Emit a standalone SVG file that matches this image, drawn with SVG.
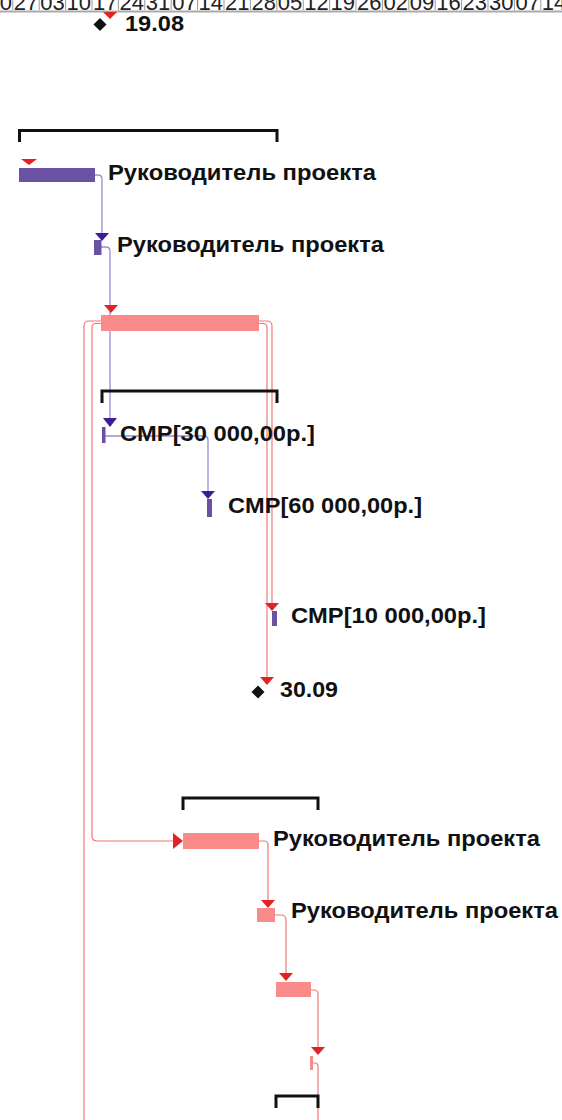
<svg xmlns="http://www.w3.org/2000/svg" width="562" height="1120" viewBox="0 0 562 1120">
<style>
.hdr{font-family:"Liberation Sans",Arial,sans-serif;font-size:22px;fill:#222}
.sep{stroke:#999;stroke-width:1}
.lbl{font-family:"Liberation Sans",Arial,sans-serif;font-size:22.5px;font-weight:bold;fill:#111}
.pbar{fill:#6a51a3}
.rbar{fill:#f98b8b}
.brk{fill:none;stroke:#111;stroke-width:3}
.pcon{fill:none;stroke:#9d8bd2;stroke-width:1.3}
.rcon{fill:none;stroke:#f27878;stroke-width:1.2}
.parr{fill:#3d1c96}
.rarr{fill:#e02424}
.ms{fill:#111}
</style>
<rect width="562" height="1120" fill="#fff"/>
<g id="timescale">
<line x1="0" y1="11.5" x2="562" y2="11.5" stroke="#aaa" stroke-width="2"/>
<g class="sep">
<line x1="12.8" y1="0" x2="12.8" y2="10"/><line x1="39.2" y1="0" x2="39.2" y2="10"/><line x1="65.6" y1="0" x2="65.6" y2="10"/><line x1="92" y1="0" x2="92" y2="10"/><line x1="118.4" y1="0" x2="118.4" y2="10"/><line x1="144.8" y1="0" x2="144.8" y2="10"/><line x1="171.2" y1="0" x2="171.2" y2="10"/><line x1="197.6" y1="0" x2="197.6" y2="10"/><line x1="224" y1="0" x2="224" y2="10"/><line x1="250.4" y1="0" x2="250.4" y2="10"/><line x1="276.8" y1="0" x2="276.8" y2="10"/><line x1="303.2" y1="0" x2="303.2" y2="10"/><line x1="329.6" y1="0" x2="329.6" y2="10"/><line x1="356" y1="0" x2="356" y2="10"/><line x1="382.4" y1="0" x2="382.4" y2="10"/><line x1="408.8" y1="0" x2="408.8" y2="10"/><line x1="435.2" y1="0" x2="435.2" y2="10"/><line x1="461.6" y1="0" x2="461.6" y2="10"/><line x1="488" y1="0" x2="488" y2="10"/><line x1="514.4" y1="0" x2="514.4" y2="10"/><line x1="540.8" y1="0" x2="540.8" y2="10"/>
</g>
<text class="hdr" x="-12.6" y="9.5">20</text><text class="hdr" x="13.8" y="9.5">27</text><text class="hdr" x="40.2" y="9.5">03</text><text class="hdr" x="66.6" y="9.5">10</text><text class="hdr" x="93" y="9.5">17</text><text class="hdr" x="119.4" y="9.5">24</text><text class="hdr" x="145.8" y="9.5">31</text><text class="hdr" x="172.2" y="9.5">07</text><text class="hdr" x="198.6" y="9.5">14</text><text class="hdr" x="225" y="9.5">21</text><text class="hdr" x="251.4" y="9.5">28</text><text class="hdr" x="277.8" y="9.5">05</text><text class="hdr" x="304.2" y="9.5">12</text><text class="hdr" x="330.6" y="9.5">19</text><text class="hdr" x="357" y="9.5">26</text><text class="hdr" x="383.4" y="9.5">02</text><text class="hdr" x="409.8" y="9.5">09</text><text class="hdr" x="436.2" y="9.5">16</text><text class="hdr" x="462.6" y="9.5">23</text><text class="hdr" x="489" y="9.5">30</text><text class="hdr" x="515.4" y="9.5">07</text><text class="hdr" x="541.8" y="9.5">14</text>
</g>
<g id="connectors">
<path class="pcon" d="M95,175 H98 Q102,175 102,179 V234"/>
<path class="rcon" d="M101,321 H89 Q84,321 84,326 V1120"/>
<path class="rcon" d="M101,323.5 H96 Q92,323.5 92,327.5 V836 Q92,841 97,841 H174"/>
<path class="rcon" d="M259,321 H267 Q272,321 272,326 V604"/>
<path class="rcon" d="M259,323.5 H263 Q267,323.5 267,327.5 V678"/>
<path class="pcon" d="M101,247 H106 Q110,247 110,251 V419"/>
<path class="pcon" d="M105,436 H204 Q208,436 208,440 V492"/>
<path class="rcon" d="M259,841 H264 Q268,841 268,845 V901"/>
<path class="rcon" d="M275,915 H281 Q286,915 286,920 V974"/>
<path class="rcon" d="M311,990 H314 Q318,990 318,994 V1048"/>
<path class="rcon" d="M313,1063 H315 Q318,1063 318,1066 V1120"/>
<polygon class="parr" points="95,233 109,233 102,241"/>
<polygon class="rarr" points="104,305 118,305 111,313"/>
<polygon class="parr" points="103,418 117,418 110,427"/>
<polygon class="parr" points="201,491 215,491 208,499"/>
<polygon class="rarr" points="265,603 279,603 272,611"/>
<polygon class="rarr" points="260,677 274,677 267,685"/>
<polygon class="rarr" points="173,833 183,841 173,849"/>
<polygon class="rarr" points="261,900 275,900 268,908"/>
<polygon class="rarr" points="279,973 293,973 286,981"/>
<polygon class="rarr" points="311,1047 325,1047 318,1055"/>
<polygon class="rarr" points="103,12 117,12 110,19"/>
<polygon class="rarr" points="21,159 37,159 29,165"/>
</g>
<g id="ms-1908">
<polygon class="ms" points="100,18 106.5,24.5 100,31 93.5,24.5"/>
<text class="lbl" x="125" y="31" textLength="59" lengthAdjust="spacingAndGlyphs">19.08</text>
</g>
<g id="summary-1">
<path class="brk" d="M19.5,142 V130.5 H277 V142"/>
</g>
<g id="task-a">
<rect class="pbar" x="19" y="168" width="76" height="14"/>
<text class="lbl" x="108" y="180" textLength="268" lengthAdjust="spacingAndGlyphs">Руководитель проекта</text>
</g>
<g id="task-b">
<rect class="pbar" x="94" y="240" width="7.5" height="15"/>
<text class="lbl" x="117" y="252" textLength="267" lengthAdjust="spacingAndGlyphs">Руководитель проекта</text>
</g>
<g id="task-crit-1">
<rect class="rbar" x="101" y="315" width="158" height="16"/>
</g>
<g id="summary-2">
<path class="brk" d="M102,403 V391 H277 V403"/>
</g>
<g id="cmp-30">
<rect class="pbar" x="102" y="427" width="3.5" height="16"/>
<text class="lbl" x="120" y="441" textLength="195" lengthAdjust="spacingAndGlyphs">CMP[30 000,00p.]</text>
</g>
<g id="cmp-60">
<rect class="pbar" x="207" y="499" width="5" height="18"/>
<text class="lbl" x="228" y="513" textLength="194" lengthAdjust="spacingAndGlyphs">CMP[60 000,00p.]</text>
</g>
<g id="cmp-10">
<rect class="pbar" x="272" y="611" width="5" height="15"/>
<text class="lbl" x="291" y="623" textLength="195" lengthAdjust="spacingAndGlyphs">CMP[10 000,00p.]</text>
</g>
<g id="ms-3009">
<polygon class="ms" points="258,685.5 264.5,692 258,698.5 251.5,692"/>
<text class="lbl" x="280" y="697" textLength="58" lengthAdjust="spacingAndGlyphs">30.09</text>
</g>
<g id="summary-3">
<path class="brk" d="M183,810 V798 H318 V810"/>
</g>
<g id="task-c">
<rect class="rbar" x="183" y="833" width="76" height="16"/>
<text class="lbl" x="273" y="846" textLength="267" lengthAdjust="spacingAndGlyphs">Руководитель проекта</text>
</g>
<g id="task-d">
<rect class="rbar" x="257" y="908" width="18" height="14"/>
<text class="lbl" x="291" y="918" textLength="267" lengthAdjust="spacingAndGlyphs">Руководитель проекта</text>
</g>
<g id="task-e">
<rect class="rbar" x="276" y="982" width="35" height="15"/>
</g>
<g id="task-f">
<rect class="rbar" x="310" y="1056" width="3" height="14"/>
</g>
<g id="summary-4">
<path class="brk" d="M276,1108 V1096 H318 V1108"/>
</g>
</svg>
